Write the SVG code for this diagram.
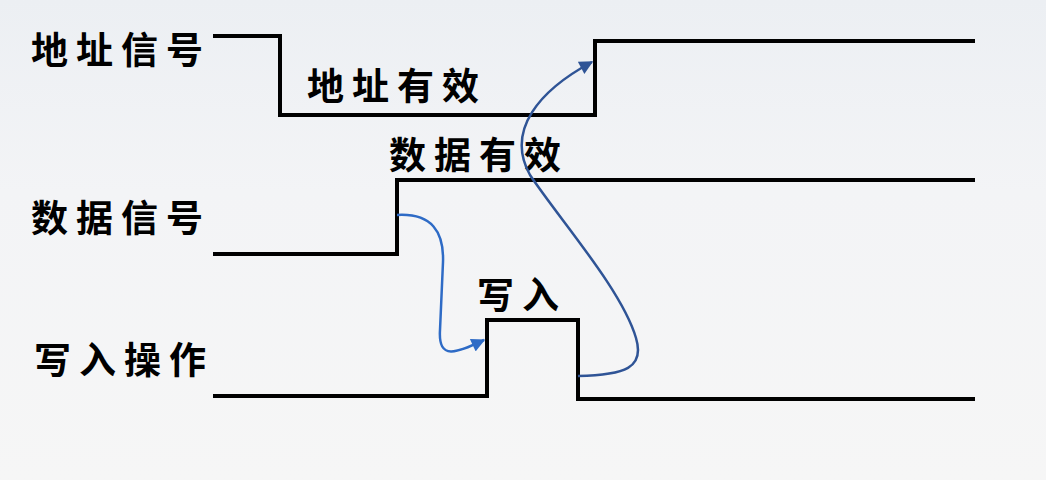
<svg xmlns="http://www.w3.org/2000/svg" width="1046" height="480" viewBox="0 0 1046 480">
<defs>
<linearGradient id="bg" x1="0" y1="0" x2="0" y2="1">
<stop offset="0" stop-color="#eceff3"/>
<stop offset="0.4" stop-color="#f3f4f6"/>
<stop offset="1" stop-color="#f6f6f6"/>
</linearGradient>
<marker id="ah1" viewBox="0 0 10 10" refX="9" refY="5" markerWidth="6" markerHeight="5.5" orient="auto" markerUnits="strokeWidth">
<path d="M0,0 L10,5 L0,10 Z" fill="#2e6bc6"/>
</marker>
<marker id="ah2" viewBox="0 0 10 10" refX="9" refY="5" markerWidth="6" markerHeight="5.5" orient="auto" markerUnits="strokeWidth">
<path d="M0,0 L10,5 L0,10 Z" fill="#2f5496"/>
</marker>
<style>
.sig{fill:none;stroke:#000;stroke-width:4;stroke-linejoin:miter}
.lbl{font-family:"Noto Sans CJK SC","Noto Sans CJK JP",sans-serif;font-weight:bold;font-size:37px;fill:#000;letter-spacing:8px}
</style>
</defs>
<rect x="0" y="0" width="1046" height="480" fill="url(#bg)"/>
<g id="addr">
<polyline class="sig" points="213,36 280,36 280,115 595,115 595,41 975,41"/>
<text class="lbl" x="31" y="64">地址信号</text>
<text class="lbl" x="307" y="100">地址有效</text>
</g>
<g id="data">
<polyline class="sig" points="213,254 397,254 397,180 975,180"/>
<text class="lbl" x="31" y="232">数据信号</text>
<text class="lbl" x="389" y="169">数据有效</text>
</g>
<g id="write">
<polyline class="sig" points="213,396 487,396 487,320 578,320 578,399 975,399"/>
<text class="lbl" x="34" y="374">写入操作</text>
<text class="lbl" x="477" y="309">写入</text>
</g>
<g id="connectors" fill="none">
<path d="M397,215 C432,213 444,232 443,262 L440,330 C438,362 458,352 484,340" stroke="#2e6bc6" stroke-width="2.5" marker-end="url(#ah1)"/>
<path d="M578,376 C625,375 645,368 636,338 C622,290 560,220 530,175 C505,130 540,90 592,62" stroke="#2f5496" stroke-width="2.5" marker-end="url(#ah2)"/>
</g>
</svg>
